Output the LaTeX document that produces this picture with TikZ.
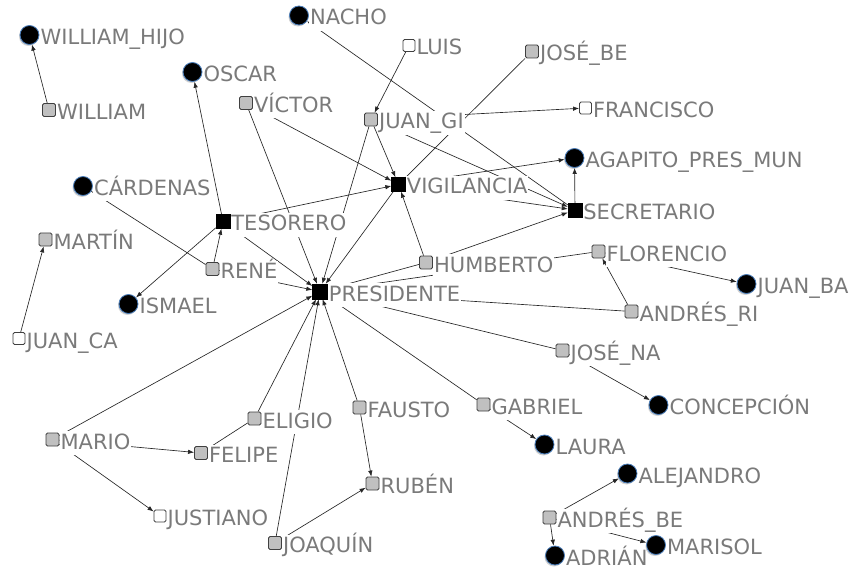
\documentclass[tikz,border=0pt]{standalone}
\usepackage{fontspec}
\setmainfont{DejaVu Sans}
\usetikzlibrary{arrows.meta,shadows}
\pgfdeclarelayer{bg}
\pgfdeclarelayer{edges}
\pgfdeclarelayer{front}
\pgfsetlayers{bg,edges,main,front}
\definecolor{ringblue}{RGB}{74,126,187}
\definecolor{sqgray}{RGB}{192,192,192}
\definecolor{labgray}{RGB}{122,122,122}
\begin{document}
\begin{tikzpicture}[x=1pt,y=-1pt,
  circ/.style={circle,inner sep=0pt,minimum size=19pt,fill=black,draw=ringblue,line width=0.8pt,
    drop shadow={shadow xshift=-1pt,shadow yshift=-1.5pt,fill=black!40,opacity=0.45}},
  gsq/.style={rectangle,inner sep=0pt,minimum size=13pt,fill=sqgray,draw=black!75,line width=0.8pt,rounded corners=1.5pt},
  wsq/.style={gsq,fill=white,minimum size=12pt},
  bsq/.style={rectangle,inner sep=0pt,minimum size=14pt,fill=black,draw=black},
  lab/.style={anchor=west,inner sep=1pt,fill=white,text=labgray,font=\fontsize{21}{23}\selectfont,
    text height=17pt,text depth=5pt,yshift=-3.5pt},
  arr/.style={draw=black!85,line width=0.65pt,-{Latex[length=6pt,width=4.5pt]}},
  plain/.style={draw=black!85,line width=0.65pt}]
\useasboundingbox (0,0) rectangle (853,569);
\begin{pgfonlayer}{bg}
\fill[white] (0,0) rectangle (853,569);
\end{pgfonlayer}

\begin{pgfonlayer}{front}
\node[circ] (williamhijo) at (29.5,35) {};
\node[gsq] (william) at (49,110) {};
\node[circ] (oscar) at (192.5,72) {};
\node[gsq] (victor) at (246,103) {};
\node[circ] (cardenas) at (83,186) {};
\node[circ] (nacho) at (299,15.5) {};
\node[wsq] (luis) at (409,45.5) {};
\node[gsq] (josebe) at (532,51.5) {};
\node[gsq] (juangi) at (371,119.5) {};
\node[wsq] (francisco) at (585.5,108) {};
\node[circ] (agapito) at (574.5,158) {};
\node[bsq] (vigilancia) at (398.5,184.5) {};
\node[bsq] (secretario) at (575,210) {};
\node[bsq] (tesorero) at (223,221.5) {};
\node[gsq] (martin) at (45.5,239.5) {};
\node[gsq] (rene) at (212.5,269) {};
\node[circ] (ismael) at (128.5,304) {};
\node[gsq] (humberto) at (426,262.5) {};
\node[gsq] (florencio) at (598.5,251.5) {};
\node[circ] (juanba) at (746.5,284) {};
\node[bsq,minimum size=15pt] (presidente) at (320,291.5) {};
\node[gsq] (andresri) at (631.5,311.5) {};
\node[wsq] (juanca) at (19,338.5) {};
\node[gsq] (josena) at (562.5,350.5) {};
\node[circ] (concepcion) at (658.5,405) {};
\node[gsq] (eligio) at (254.5,418.5) {};
\node[gsq] (fausto) at (359.5,407.5) {};
\node[gsq] (gabriel) at (483.5,404.5) {};
\node[gsq] (mario) at (52.5,439.5) {};
\node[gsq] (felipe) at (201,453) {};
\node[circ] (laura) at (544.5,444.5) {};
\node[circ] (alejandro) at (627.5,473.5) {};
\node[gsq] (ruben) at (372.5,483.5) {};
\node[wsq] (justiano) at (160,516) {};
\node[gsq] (andresbe) at (549.5,517.5) {};
\node[gsq] (joaquin) at (275,543) {};
\node[circ] (adrian) at (555,555.5) {};
\node[circ] (marisol) at (656,545) {};
\end{pgfonlayer}

\begin{pgfonlayer}{edges}
\draw[arr] (william) -- (williamhijo);
\draw[arr] (tesorero) -- (oscar);
\draw[arr] (victor) -- (presidente);
\draw[arr] (victor) -- (vigilancia);
\draw[plain] (cardenas) -- (rene);
\draw[arr] (rene) -- (tesorero);
\draw[arr] (tesorero) -- (ismael);
\draw[arr] (tesorero) -- (presidente);
\draw[arr] (rene) -- (presidente);
\draw[arr] (tesorero) -- (vigilancia);
\draw[arr] (juanca) -- (martin);
\draw[arr] (secretario) -- (nacho);
\draw[arr] (luis) -- (juangi);
\draw[plain] (josebe) -- (vigilancia);
\draw[arr] (juangi) -- (francisco);
\draw[arr] (juangi) -- (vigilancia);
\draw[arr] (juangi) -- (presidente);
\draw[arr] (juangi) -- (secretario);
\draw[arr] (vigilancia) -- (agapito);
\draw[arr] (vigilancia) -- (secretario);
\draw[arr] (secretario) -- (agapito);
\draw[arr] (humberto) -- (vigilancia);
\draw[arr] (humberto) -- (presidente);
\draw[arr] (humberto) -- (secretario);
\draw[arr] (vigilancia) -- (presidente);
\draw[arr] (florencio) -- (presidente);
\draw[arr] (andresri) -- (presidente);
\draw[arr] (andresri) -- (florencio);
\draw[arr] (florencio) -- (juanba);
\draw[arr] (josena) -- (presidente);
\draw[arr] (josena) -- (concepcion);
\draw[arr] (gabriel) -- (presidente);
\draw[arr] (gabriel) -- (laura);
\draw[arr] (fausto) -- (presidente);
\draw[arr] (fausto) -- (ruben);
\draw[arr] (eligio) -- (presidente);
\draw[plain] (eligio) -- (felipe);
\draw[arr] (joaquin) -- (presidente);
\draw[arr] (joaquin) -- (ruben);
\draw[arr] (mario) -- (presidente);
\draw[arr] (mario) -- (felipe);
\draw[arr] (mario) -- (justiano);
\draw[arr] (andresbe) -- (alejandro);
\draw[arr] (andresbe) -- (adrian);
\draw[arr] (andresbe) -- (marisol);
\end{pgfonlayer}

\node[lab] (williamhijol) at (williamhijo.east) {WILLIAM\_HIJO};
\node[lab] (williaml) at (william.east) {WILLIAM};
\node[lab] (oscarl) at (oscar.east) {OSCAR};
\node[lab] (victorl) at (victor.east) {VÍCTOR};
\node[lab] (cardenasl) at (cardenas.east) {CÁRDENAS};
\node[lab] (nachol) at (nacho.east) {NACHO};
\node[lab] (luisl) at (luis.east) {LUIS};
\node[lab] (josebel) at (josebe.east) {JOSÉ\_BE};
\node[lab] (juangil) at (juangi.east) {JUAN\_GI};
\node[lab] (franciscol) at (francisco.east) {FRANCISCO};
\node[lab] (agapitol) at (agapito.east) {AGAPITO\_PRES\_MUN};
\node[lab] (vigilancial) at (vigilancia.east) {VIGILANCIA};
\node[lab] (secretariol) at (secretario.east) {SECRETARIO};
\node[lab] (tesorerol) at (tesorero.east) {TESORERO};
\node[lab] (martinl) at (martin.east) {MARTÍN};
\node[lab] (renel) at (rene.east) {RENÉ};
\node[lab] (ismaell) at (ismael.east) {ISMAEL};
\node[lab] (humbertol) at (humberto.east) {HUMBERTO};
\node[lab] (florenciol) at (florencio.east) {FLORENCIO};
\node[lab] (juanbal) at (juanba.east) {JUAN\_BA};
\node[lab] (presidentel) at (presidente.east) {PRESIDENTE};
\node[lab] (andresril) at (andresri.east) {ANDRÉS\_RI};
\node[lab] (juancal) at (juanca.east) {JUAN\_CA};
\node[lab] (josenal) at (josena.east) {JOSÉ\_NA};
\node[lab] (concepcionl) at (concepcion.east) {CONCEPCIÓN};
\node[lab] (eligiol) at (eligio.east) {ELIGIO};
\node[lab] (faustol) at (fausto.east) {FAUSTO};
\node[lab] (gabriell) at (gabriel.east) {GABRIEL};
\node[lab] (mariol) at (mario.east) {MARIO};
\node[lab] (felipel) at (felipe.east) {FELIPE};
\node[lab] (laural) at (laura.east) {LAURA};
\node[lab] (alejandrol) at (alejandro.east) {ALEJANDRO};
\node[lab] (rubenl) at (ruben.east) {RUBÉN};
\node[lab] (justianol) at (justiano.east) {JUSTIANO};
\node[lab] (andresbel) at (andresbe.east) {ANDRÉS\_BE};
\node[lab] (joaquinl) at (joaquin.east) {JOAQUÍN};
\node[lab] (adrianl) at (adrian.east) {ADRIÁN};
\node[lab] (marisoll) at (marisol.east) {MARISOL};
\end{tikzpicture}
\end{document}
